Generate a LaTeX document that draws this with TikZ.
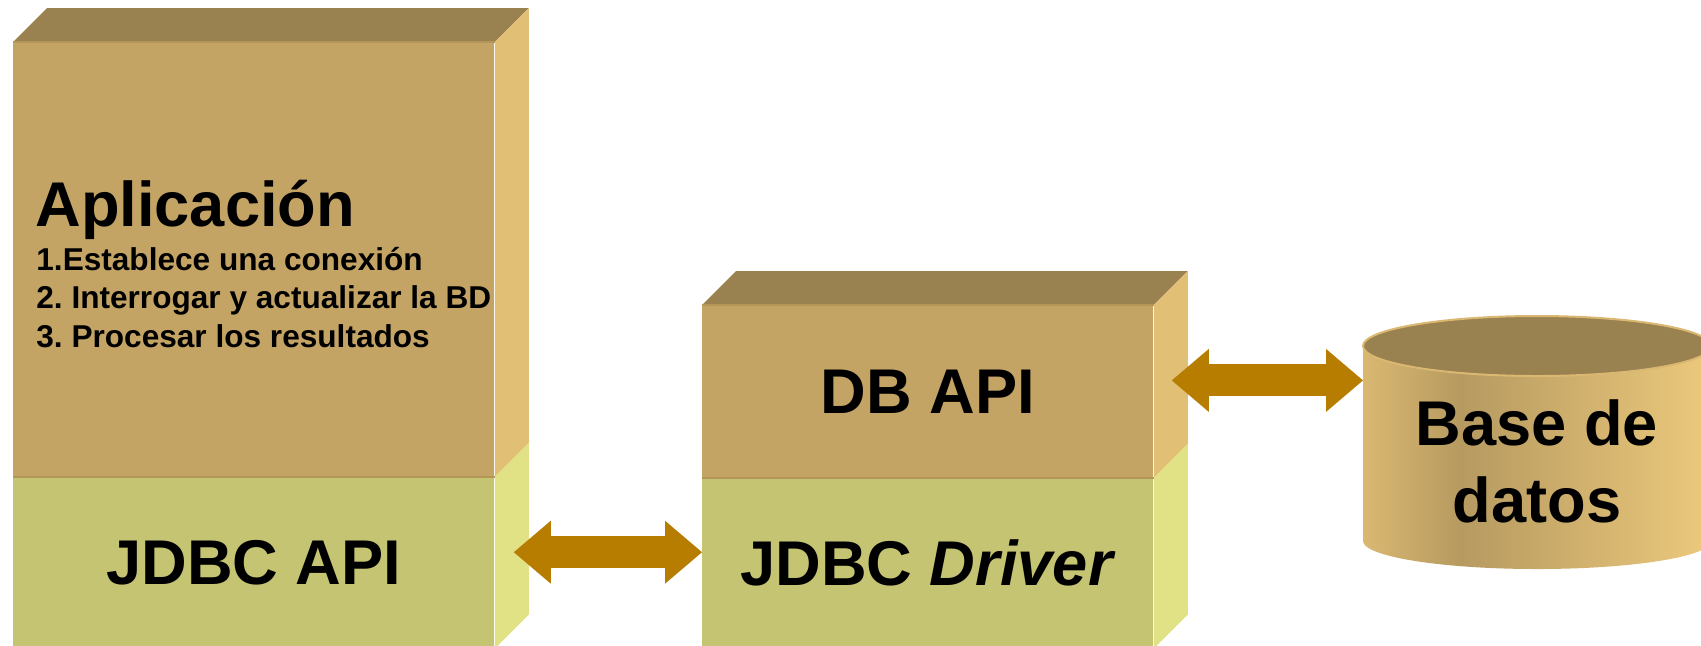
\documentclass[tikz,border=0pt]{standalone}
\usepackage{fontspec}
\setmainfont{Liberation Sans}
\usetikzlibrary{positioning,arrows.meta}
\definecolor{topc}{HTML}{9A8150}
\definecolor{tanfront}{HTML}{C4A465}
\definecolor{tanedge}{HTML}{B39658}
\definecolor{tanside}{HTML}{E1BF74}
\definecolor{greenfront}{HTML}{C4C473}
\definecolor{greenside}{HTML}{E1E185}
\definecolor{linkc}{HTML}{B77D00}
\definecolor{cylL}{HTML}{DAB872}
\definecolor{cylM}{HTML}{B69A60}
\definecolor{cylR}{HTML}{ECC97C}
\pgfdeclarehorizontalshading{dbshade}{100bp}{color(0bp)=(cylL); color(25bp)=(cylL); color(39bp)=(cylM); color(75bp)=(cylR); color(100bp)=(cylR)}
\tikzset{face/.style={rectangle,inner sep=0pt,anchor=north west,font=\bfseries\fontsize{31.6}{38}\selectfont},
	 tanface/.style={face,fill=tanfront},
	 greenface/.style={face,fill=greenfront},
	 paso/.style={anchor=base west,inner sep=0pt,font=\bfseries\fontsize{15.8}{19}\selectfont},
	 link/.style={draw=linkc,line width=16pt,{Triangle[length=18.5pt,width=31.5pt,line width=0pt]}-{Triangle[length=18.5pt,width=31.5pt,line width=0pt]}}
	 }
\frenchspacing

\begin{document}
\begin{tikzpicture}[x=0.5pt,y=-0.5pt] % JDBC layers
	\useasboundingbox (0,0) rectangle (1701,645);
	\node[tanface,minimum width=240.5pt,minimum height=217pt] (app) at (13,42) {};
	\node[greenface,minimum width=240.5pt,minimum height=85.5pt,below=0pt of app] (api) {JDBC API};
	\node[tanface,minimum width=225.5pt,minimum height=86pt] (dbapi) at (702,305) {DB API};
	\node[greenface,minimum width=225.5pt,minimum height=85pt,below=0pt of dbapi] (driver) {JDBC \textit{Driver}};
	\fill[topc] (app.north west) -- ++(34,-34) -- ([shift={(34,-34)}]app.north east) -- (app.north east) -- cycle;
	\fill[tanside] (app.north east) -- ++(34,-34) -- ([shift={(34,-34)}]app.south east) -- (app.south east) -- cycle;
	\fill[greenside] (api.north east) -- ++(34,-34) -- ([shift={(34,-34)}]api.south east) -- (api.south east) -- cycle;
	\fill[topc] (dbapi.north west) -- ++(34,-34) -- ([shift={(34,-34)}]dbapi.north east) -- (dbapi.north east) -- cycle;
	\fill[tanside] (dbapi.north east) -- ++(34,-34) -- ([shift={(34,-34)}]dbapi.south east) -- (dbapi.south east) -- cycle;
	\fill[greenside] (driver.north east) -- ++(34,-34) -- ([shift={(34,-34)}]driver.south east) -- (driver.south east) -- cycle;
	\draw[tanedge,line width=0.8pt] (app.north west) -- (app.north east) (api.north west) -- (api.north east);
	\draw[tanedge,line width=0.8pt] (dbapi.north west) -- (dbapi.north east) (driver.north west) -- (driver.north east);
	\node[anchor=base west,inner sep=0pt,font=\bfseries\fontsize{31.6}{38}\selectfont] (apptitle) at (35,226) {Aplicación};
	\foreach \t/\y [count=\i] in {1.Establece una conexión/270, 2. Interrogar y actualizar la BD/308.5, 3. Procesar los resultados/347}
		\node[paso] (paso\i) at (36,\y) {\t};
	% database
	\shade[shading=dbshade] (1363,346) -- (1363,541) arc[start angle=180,end angle=0,x radius=174,y radius=28] -- (1711,346) -- cycle;
	\filldraw[fill=topc,draw=cylL,line width=1pt] (1537,346) ellipse[x radius=174,y radius=30];
	\node[font=\bfseries\fontsize{31.6}{38.5}\selectfont,align=center] (bd) at (1537,461) {Base de\\datos};
	\coordinate (bdin) at (1363,380);
	\draw[link] ([shift={(19,-10.5)}]api.east) coordinate (l1) -- (l1 -| driver.west);
	\draw[link] ([shift={(18,-11)}]dbapi.east) coordinate (l2) -- (l2 -| bdin);
\end{tikzpicture}
\end{document}
